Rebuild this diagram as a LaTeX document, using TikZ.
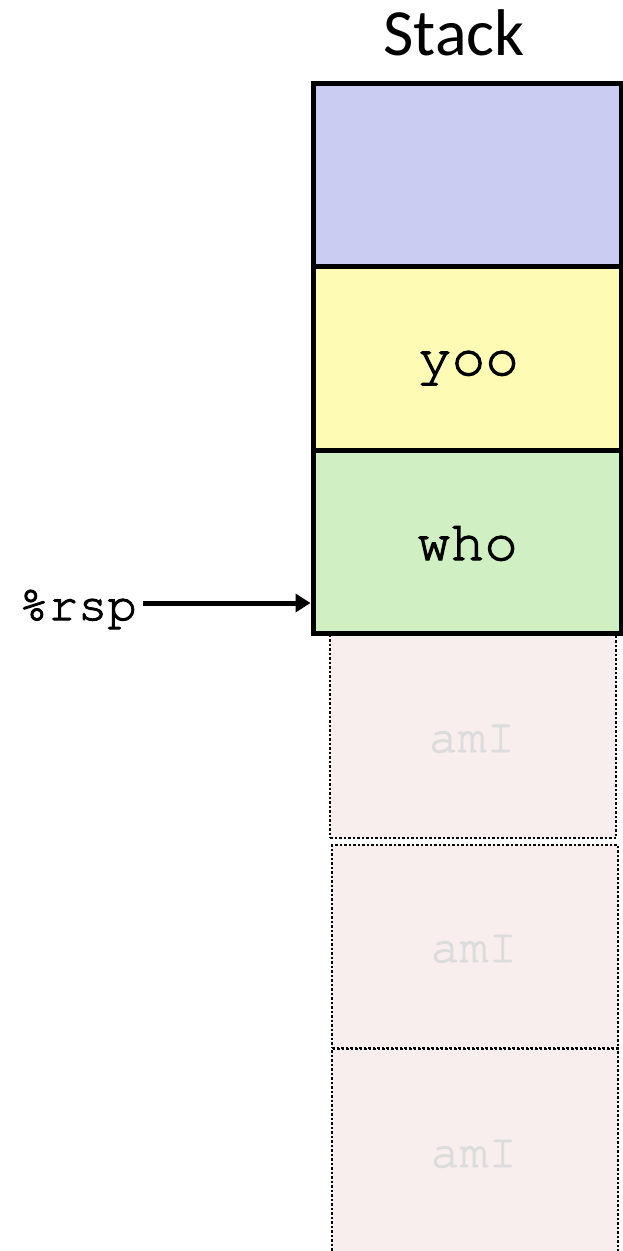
\documentclass[tikz,border=0pt]{standalone}
\usepackage{fontspec}
\newfontfamily\monofnt[FakeBold=2]{texgyrecursor-regular.otf}
\newfontfamily\titlefnt{Carlito}
\usetikzlibrary{arrows.meta}
\definecolor{lav}{HTML}{CBCCF2}
\definecolor{yel}{HTML}{FEFCB4}
\definecolor{grn}{HTML}{D0F0C4}
\definecolor{pnk}{HTML}{F9EEEE}
\definecolor{ghost}{HTML}{DCDCDC}
\tikzset{
  solidbox/.style={draw=black, line width=5pt, minimum width=308pt, inner sep=0pt},
  dotbox/.style={draw=black, line width=2.5pt, dash pattern=on 2.5pt off 2pt, fill=pnk, minimum width=286pt, inner sep=0pt},
  bigtxt/.style={anchor=base, inner sep=0pt, font=\monofnt\fontsize{56}{60}\selectfont},
  ghosttxt/.style={anchor=base, inner sep=0pt, text=ghost, font=\monofnt\fontsize{48}{52}\selectfont},
  ptr/.style={line width=5pt, -{Triangle[length=15pt,width=18pt]}}
}
\begin{document}
\begin{tikzpicture}[x=1pt,y=-1pt]
\useasboundingbox (0,0) rectangle (623,1251);
% ghost boxes
\node[dotbox, minimum height=205pt] (b6) at (475,1151) {};
\node[ghosttxt] (t6) at (474,1167) {amI};
\node[dotbox, minimum height=203pt] (b5) at (475,946.5) {};
\node[ghosttxt] (t5) at (474,962) {amI};
\node[dotbox, minimum height=205pt] (b4) at (473,735.5) {};
\node[ghosttxt] (t4) at (472,752) {amI};
% solid boxes
\node[solidbox, fill=lav, minimum height=183pt] (b1) at (467,174.5) {};
\node[solidbox, fill=yel, minimum height=184pt] (b2) at (467,358) {};
\node[bigtxt] (t2) at (468.5,375) {yoo};
\node[solidbox, fill=grn, minimum height=183pt] (b3) at (467,541.5) {};
\node[bigtxt] (t3) at (467.5,560) {who};
% title
\node[anchor=base, inner sep=0pt, font=\titlefnt\fontsize{66}{70}\selectfont] (title) at (454,55) {Stack};
% pointer
\node[anchor=base west, inner sep=0pt, font=\monofnt\fontsize{49}{52}\selectfont] (rsp) at (19,620) {\%rsp};
\coordinate (s) at (143,603);
\draw[ptr] (s) -- (b3.west |- s);
\end{tikzpicture}
\end{document}
